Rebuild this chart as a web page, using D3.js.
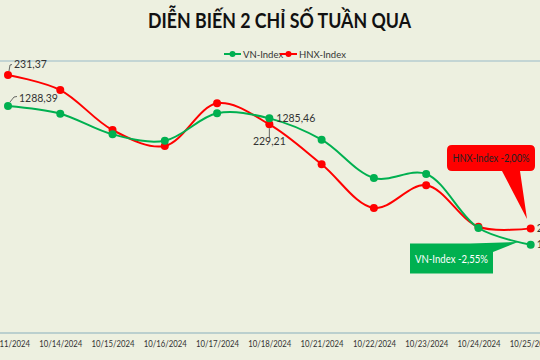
<!DOCTYPE html>
<html><head><meta charset="utf-8">
<script src="https://cdn.jsdelivr.net/npm/d3@7"></script>
<style>
html,body{margin:0;padding:0;background:#EDF0E0;}
svg{display:block;}
</style></head>
<body>
<svg id="c" width="540" height="360"></svg>
<script>
const categories = ["10/11/2024","10/14/2024","10/15/2024","10/16/2024","10/17/2024","10/18/2024","10/21/2024","10/22/2024","10/23/2024","10/24/2024","10/25/2024"];
const vnIndex = [1288.39,1286.57,1281.69,1280.17,1286.66,1285.46,1280.41,1271.34,1272.29,1259.50,1255.54];
const hnxIndex = [231.37,230.71,228.96,228.26,230.13,229.21,227.46,225.54,226.54,224.72,224.65];
const seriesNames = ["VN-Index","HNX-Index"];
const title = "DIỄN BIẾN 2 CHỈ SỐ TUẦN QUA";
const vnCallout = "VN-Index -2,55%";
const hnxCallout = "HNX-Index -2,00%";

const W=540,H=360;
const svg=d3.select("#c");
const green="#00B050", red="#FF0000";
const font="Lato, 'Open Sans', sans-serif";
const fmt = v => d3.format(".2f")(v).replace(".", ",");

svg.append("rect").attr("width",W).attr("height",H).attr("fill","#EDF0E0");

// title
svg.append("text").attr("x",279.5).attr("y",28).attr("text-anchor","middle")
  .attr("font-family",font).attr("font-weight","bold").attr("font-size",20)
  .attr("textLength",263).attr("lengthAdjust","spacingAndGlyphs")
  .attr("fill","#111").text(title);

const x=d3.scalePoint().domain(categories).range([8,530.7]);
// independent axes for each series (as in the source chart)
const yVN=d3.scaleLinear().domain([1288.39,1255.54]).range([106,244.7]);
const yHNX=d3.scaleLinear().domain([231.37,229.21]).range([75,124.3]);

// plot area lines
svg.append("line").attr("x1",0).attr("x2",W).attr("y1",61).attr("y2",61).attr("stroke","#B5CDD0").attr("stroke-width",1.5);
const xAxis=svg.append("g").attr("transform","translate(0,333)")
  .call(d3.axisBottom(x).tickSize(0).tickPadding(7));
xAxis.select(".domain").attr("d","M0,0H540").attr("stroke","#A9C4C8").attr("stroke-width",1.5);
xAxis.selectAll("text").attr("font-family",font).attr("font-size",9.6).attr("fill","#333")
  .attr("textLength",43).attr("lengthAdjust","spacingAndGlyphs");

// legend
const leg=svg.append("g").attr("font-family",font).attr("font-size",9.5).attr("fill","#333");
[[seriesNames[0],green,224],[seriesNames[1],red,280]].forEach(([n,c,lx])=>{
  leg.append("line").attr("x1",lx).attr("x2",lx+17).attr("y1",54).attr("y2",54).attr("stroke",c).attr("stroke-width",2);
  leg.append("circle").attr("cx",lx+8.5).attr("cy",54).attr("r",3).attr("fill",c);
  leg.append("text").attr("x",lx+19).attr("y",57.5).attr("fill","#333").text(n);
});

const line=(ys)=>d3.line().x((d,i)=>x(categories[i])).y(d=>ys(d)).curve(d3.curveCatmullRom.alpha(0.5));

function drawSeries(vals,ys,c){
  svg.append("path").datum(vals).attr("d",line(ys)).attr("fill","none").attr("stroke",c).attr("stroke-width",2);
  svg.append("g").selectAll("circle").data(vals).join("circle")
    .attr("cx",(d,i)=>x(categories[i])).attr("cy",d=>ys(d)).attr("r",4).attr("fill",c);
}
drawSeries(hnxIndex,yHNX,red);
drawSeries(vnIndex,yVN,green);

// data labels
const lab=svg.append("g").attr("font-family",font).attr("font-size",10.5).attr("fill","#333");
function leader(pts){ lab.append("polyline").attr("points",pts.map(p=>p.join(",")).join(" ")).attr("fill","none").attr("stroke","#444").attr("stroke-width",0.8);}
{
  const px=x(categories[0]);
  let py=yHNX(hnxIndex[0]);
  leader([[px+1,py-4],[px+2,py-10],[px+4,py-10.5]]);
  lab.append("text").attr("x",px+6).attr("y",py-7).text(fmt(hnxIndex[0]));
  py=yVN(vnIndex[0]);
  leader([[px+2,py-4],[px+6,py-9],[px+9,py-9.5]]);
  lab.append("text").attr("x",px+11).attr("y",py-4.5).text(fmt(vnIndex[0]));
}
{
  const px=x(categories[5]);
  lab.append("text").attr("x",px+7).attr("y",yVN(vnIndex[5])+3.5).text(fmt(vnIndex[5]));
  const py=yHNX(hnxIndex[5]);
  leader([[px,py+4],[px,py+14]]);
  lab.append("text").attr("x",px).attr("y",py+21).attr("text-anchor","middle").text(fmt(hnxIndex[5]));
}
{
  const px=x(categories[10]);
  lab.append("text").attr("x",px+6).attr("y",yHNX(hnxIndex[10])+3.5).text(fmt(hnxIndex[10]));
  lab.append("text").attr("x",px+6).attr("y",yVN(vnIndex[10])+3.5).text(fmt(vnIndex[10]));
}

// callouts
const cg=svg.append("g").attr("font-family",font).attr("font-size",11.5);
cg.append("path").attr("d","M447,150 Q447,145 452,145 L530,145 Q535,145 535,150 L535,166 Q535,171 530,171 L520,171 L527,219 L502,171 L452,171 Q447,171 447,166 Z").attr("fill",red);
cg.append("text").attr("x",491).attr("y",162).attr("text-anchor","middle").attr("fill","#222")
  .attr("textLength",77).attr("lengthAdjust","spacingAndGlyphs").text(hnxCallout);
cg.append("path").attr("d","M410,243.5 L470,243.5 L518,242 L493,252 L493,273.5 L410,273.5 Z").attr("fill",green);
cg.append("text").attr("x",451.5).attr("y",262.5).attr("text-anchor","middle").attr("fill","#fff")
  .attr("textLength",73).attr("lengthAdjust","spacingAndGlyphs").text(vnCallout);
</script>
</body></html>
